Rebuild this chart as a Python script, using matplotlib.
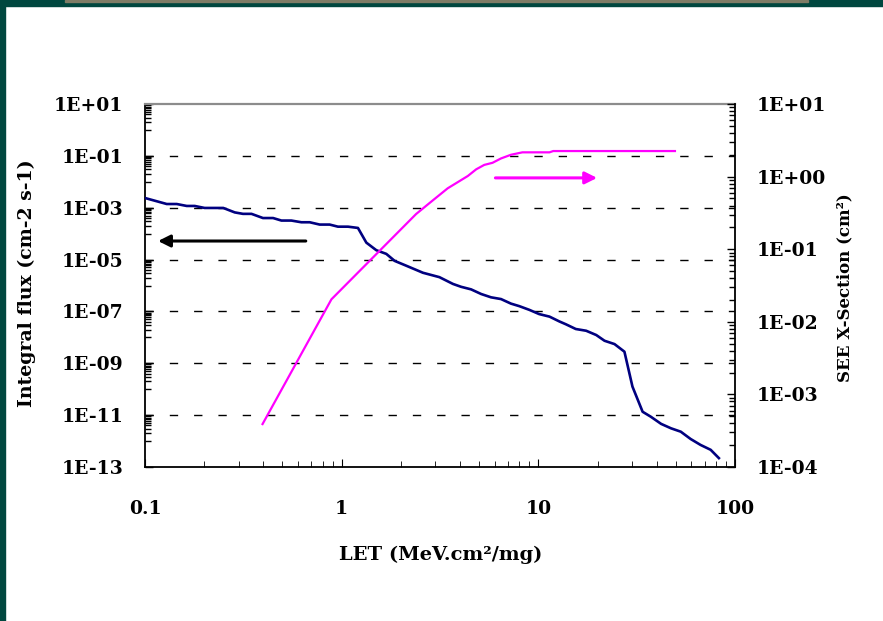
import numpy as np
import matplotlib
matplotlib.use("Agg")
import matplotlib.pyplot as plt
from matplotlib.ticker import FixedLocator, FuncFormatter, LogLocator, NullFormatter
from matplotlib.patches import Rectangle

plt.rcParams['font.family'] = 'DejaVu Serif'
plt.rcParams['font.weight'] = 'bold'
plt.rcParams['axes.labelweight'] = 'bold'

# integral flux vs LET (left axis)
let_flux = [0.1, 0.129, 0.145, 0.163, 0.179, 0.201, 0.25, 0.286, 0.315, 0.348,
            0.398, 0.448, 0.494, 0.555, 0.624, 0.688, 0.773, 0.869, 0.957, 1.077,
            1.21, 1.335, 1.50, 1.686, 1.86, 2.13, 2.59, 3.14, 3.68, 4.05,
            4.55, 5.12, 5.75, 6.46, 7.26, 8.0, 9.0, 10.1, 11.4, 12.8,
            13.8, 15.5, 17.5, 19.7, 21.7, 24.4, 27.4, 30.1, 33.9, 37.3,
            42.1, 47.3, 53.0, 59.5, 66.8, 75.2, 82.8]
flux = [2.37e-3, 1.39e-3, 1.39e-3, 1.17e-3, 1.17e-3, 9.8e-4, 9.8e-4, 6.6e-4, 5.8e-4, 5.8e-4,
        4.0e-4, 4.0e-4, 3.2e-4, 3.2e-4, 2.75e-4, 2.75e-4, 2.24e-4, 2.24e-4, 1.86e-4, 1.86e-4,
        1.66e-4, 4.5e-5, 2.3e-5, 1.66e-5, 8.9e-6, 5.8e-6, 3.1e-6, 2.1e-6, 1.15e-6, 8.9e-7,
        7.1e-7, 4.7e-7, 3.5e-7, 3.0e-7, 2.0e-7, 1.6e-7, 1.15e-7, 7.9e-8, 6.3e-8, 4.1e-8,
        3.2e-8, 2.1e-8, 1.8e-8, 1.23e-8, 7.4e-9, 5.5e-9, 2.8e-9, 1.26e-10, 1.35e-11, 8.7e-12,
        4.6e-12, 3.1e-12, 2.3e-12, 1.2e-12, 7.1e-13, 4.6e-13, 2.2e-13]

# SEE cross-section vs LET (right axis)
let_xsec = [0.396, 0.887, 2.39, 2.79, 3.46, 4.38, 4.83, 5.31, 5.85, 6.46,
            7.26, 8.3, 11.4, 11.9, 49.5]
xsec = [3.9e-4, 2.04e-2, 0.305, 0.43, 0.69, 1.02, 1.26, 1.45, 1.55, 1.78,
        2.0, 2.16, 2.16, 2.25, 2.25]

# arrows telling which axis each curve belongs to
arrow_flux = [(0.657, 5.2e-5), (0.1165, 5.2e-5)]   # (from, to) on left axis
arrow_xsec = [(6.05, 0.96), (19.9, 0.96)]          # (from, to) on right axis

x_ticks = [0.1, 1, 10, 100]
flux_major_exp = [1, -1, -3, -5, -7, -9, -11, -13]

fig = plt.figure(figsize=(8.83, 6.21), dpi=100)

# slide frame
teal = '#00473f'
fig.patches.append(Rectangle((0, 0), 5/883, 1, transform=fig.transFigure, color=teal, zorder=0))
fig.patches.append(Rectangle((0, 1 - 6/621), 1, 6/621, transform=fig.transFigure, color=teal, zorder=0))
fig.patches.append(Rectangle((65/883, 1 - 2/621), 743/883, 2/621, transform=fig.transFigure,
                             color='#7f7c66', zorder=1))

ax = fig.add_axes([0.1642, 0.2480, 0.6682, 0.5845])
ax.set_xscale('log')
ax.set_yscale('log')
ax.set_xlim(0.1, 100)
ax.set_ylim(1e-13, 10)

ax.plot(let_flux, flux, color='#000080', lw=1.9, zorder=3)

# left axis ticks
ax.yaxis.set_major_locator(FixedLocator([10.0**e for e in flux_major_exp]))
minor = [k * 10.0**(e - 1) for e in flux_major_exp for k in range(1, 10)]
ax.yaxis.set_minor_locator(FixedLocator(minor))
ax.yaxis.set_major_formatter(FuncFormatter(lambda v, _: f"{v:.0E}"))
ax.yaxis.set_minor_formatter(NullFormatter())
ax.xaxis.set_major_locator(FixedLocator(x_ticks))
ax.xaxis.set_minor_locator(LogLocator(base=10, subs=np.arange(2, 10), numticks=20))
ax.xaxis.set_major_formatter(FuncFormatter(lambda v, _: f"{v:g}"))
ax.xaxis.set_minor_formatter(NullFormatter())

ax.tick_params(axis='y', which='both', direction='in', right=False, labelsize=13.5,
               pad=15.5, width=1, colors='black')
ax.tick_params(axis='y', which='major', length=6)
ax.tick_params(axis='y', which='minor', length=4)
ax.tick_params(axis='x', which='both', direction='in', top=False, labelsize=13.5, pad=24)
ax.tick_params(axis='x', which='major', length=6)
ax.tick_params(axis='x', which='minor', length=4)

ax.grid(axis='y', which='major', color='black', lw=1, linestyle=(0, (6, 11.5)))
ax.set_axisbelow(True)
# no dashed line on the frame itself
yticks = ax.yaxis.get_major_ticks()
yticks[0].gridline.set_visible(False)
yticks[-1].gridline.set_visible(False)

for s in ['left', 'bottom']:
    ax.spines[s].set_color('black')
    ax.spines[s].set_linewidth(1.3)
ax.spines['top'].set_color('#8c8c8c')
ax.spines['top'].set_linewidth(1.6)
ax.spines['right'].set_visible(False)

ax.set_xlabel('LET (MeV.cm²/mg)', fontsize=14, va='center', fontweight='bold')
ax.xaxis.set_label_coords(0.502, -0.242)
ax.set_ylabel('Integral flux (cm-2 s-1)', fontsize=13.6, va='center', fontweight='bold')
ax.yaxis.set_label_coords(-0.2, 0.507)

ax.annotate('', xy=arrow_flux[1], xytext=arrow_flux[0],
            arrowprops=dict(arrowstyle='-|>', color='black', lw=2.2,
                            mutation_scale=18, shrinkA=0, shrinkB=0))

# right axis
ax2 = ax.twinx()
ax2.set_yscale('log')
ax2.set_ylim(1e-4, 10)
ax2.plot(let_xsec, xsec, color='#ff00ff', lw=1.6, zorder=3)
ax2.annotate('', xy=arrow_xsec[1], xytext=arrow_xsec[0],
             arrowprops=dict(arrowstyle='-|>', color='#ff00ff', lw=2.2,
                             mutation_scale=18, shrinkA=0, shrinkB=0))
ax2.yaxis.set_major_locator(LogLocator(base=10, numticks=20))
ax2.yaxis.set_minor_locator(LogLocator(base=10, subs=np.arange(2, 10), numticks=20))
ax2.yaxis.set_major_formatter(FuncFormatter(lambda v, _: f"{v:.0E}"))
ax2.yaxis.set_minor_formatter(NullFormatter())
ax2.tick_params(axis='y', which='both', direction='in', labelsize=13.5, pad=15.5, width=1)
ax2.tick_params(axis='y', which='major', length=6)
ax2.tick_params(axis='y', which='minor', length=4)
for s in ['left', 'top', 'bottom']:
    ax2.spines[s].set_visible(False)
ax2.spines['right'].set_color('black')
ax2.spines['right'].set_linewidth(1.3)
ax2.set_ylabel('SEE X-Section (cm²)', fontsize=12, va='center', rotation=90, fontweight='bold')
ax2.yaxis.set_label_coords(1.186, 0.493)

fig.savefig('out.png', dpi=100)
